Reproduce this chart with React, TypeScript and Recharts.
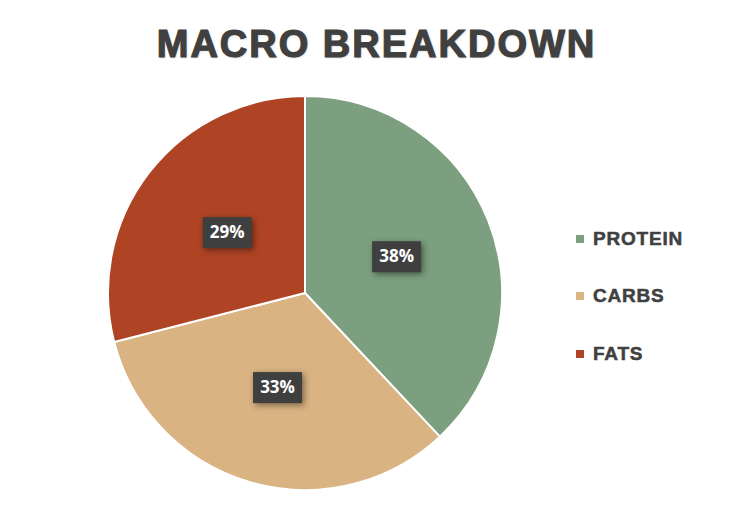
import { PieChart, Pie, Cell } from 'recharts';

const macros = ['PROTEIN', 'CARBS', 'FATS'];
const shares = [38, 33, 29];
const colors = ['#7CA07F', '#D9B382', '#AE4424'];

const data = macros.map((name, i) => ({ name, value: shares[i] }));

const RAD = Math.PI / 180;

// dark boxed percentage label in the middle of each slice
function BoxLabel(props: any) {
  const { cx, cy, midAngle, outerRadius, percent } = props;
  const r = outerRadius * 0.5;
  const x = cx + r * Math.cos(-midAngle * RAD);
  const y = cy + r * Math.sin(-midAngle * RAD);
  const w = 49;
  const h = 31;
  return (
    <g>
      <rect
        x={x - w / 2}
        y={y - h / 2}
        width={w}
        height={h}
        fill="#3F3F3F"
        style={{ filter: 'drop-shadow(2px 2px 3px rgba(0,0,0,0.45))' }}
      />
      <text
        x={x}
        y={y + 1}
        fill="#fff"
        textAnchor="middle"
        dominantBaseline="middle"
        style={{ fontFamily: '"Open Sans", sans-serif', fontWeight: 700, fontSize: 17 }}
      >
        {`${Math.round(percent * 100)}%`}
      </text>
    </g>
  );
}

const boldText = {
  fontFamily: '"Liberation Sans", Arial, sans-serif',
  fontWeight: 700,
  color: '#404040',
};

export default function App() {
  return (
    <div style={{ position: 'absolute', left: 0, top: 0, width: 753, height: 515, background: '#fff' }}>
      <style>{`.recharts-pie-sectors { filter: drop-shadow(0 0 8px rgba(0,0,0,0.35)); }`}</style>
      <div
        style={{
          ...boldText,
          position: 'absolute',
          top: 23,
          left: 0,
          width: 753,
          textAlign: 'center',
          fontSize: 38,
          letterSpacing: 2,
          WebkitTextStroke: '1.2px #404040',
          textShadow: '1px 1px 2px rgba(0,0,0,0.2)',
        }}
      >
        MACRO BREAKDOWN
      </div>
      <PieChart width={753} height={515} margin={{ top: 0, right: 0, bottom: 0, left: 0 }}>
        <Pie
          data={data}
          dataKey="value"
          nameKey="name"
          cx={305}
          cy={293}
          outerRadius={197}
          startAngle={90}
          endAngle={-270}
          stroke="#fff"
          strokeWidth={2}
          label={BoxLabel}
          labelLine={false}
          isAnimationActive={false}
        >
          {data.map((d, i) => (
            <Cell key={d.name} fill={colors[i]} />
          ))}
        </Pie>
      </PieChart>
      <div style={{ position: 'absolute', left: 576, top: 210 }}>
        {macros.map((name, i) => (
          <div key={name} style={{ display: 'flex', alignItems: 'center', height: 57.5 }}>
            <span style={{ width: 8, height: 8, background: colors[i], marginRight: 9 }} />
            <span
              style={{
                ...boldText,
                fontSize: 19,
                letterSpacing: 0.8,
                WebkitTextStroke: '0.5px #404040',
              }}
            >
              {name}
            </span>
          </div>
        ))}
      </div>
    </div>
  );
}
